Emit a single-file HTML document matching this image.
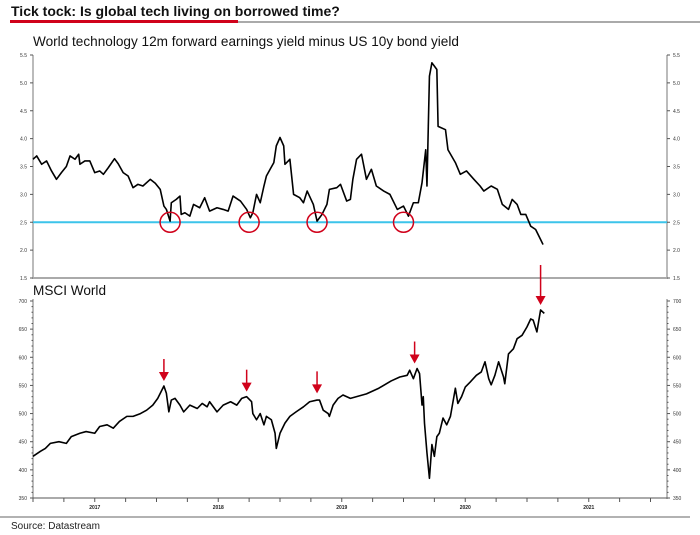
<!DOCTYPE html>
<html><head><meta charset="utf-8"><style>
body{margin:0;background:#fff;width:700px;height:535px;overflow:hidden;font-family:"Liberation Sans",sans-serif}
svg{display:block}
</style></head><body>
<svg width="700" height="535" viewBox="0 0 700 535">
<text x="11" y="16" font-size="14" font-weight="bold" fill="#111">Tick tock: Is global tech living on borrowed time?</text>
<line x1="10" y1="21.5" x2="238" y2="21.5" stroke="#d0021b" stroke-width="3"/>
<line x1="238" y1="22" x2="700" y2="22" stroke="#555" stroke-width="1"/>
<text x="33" y="46" font-size="13.6" fill="#111">World technology 12m forward earnings yield minus US 10y bond yield</text>
<text x="33" y="295" font-size="13.6" fill="#111">MSCI World</text>
<g id="topPanel"></g>
<g id="botPanel"></g>
<g id="xax"></g>
<line x1="0" y1="517" x2="690" y2="517" stroke="#666" stroke-width="1"/>
<text x="11" y="529" font-size="10" fill="#222">Source: Datastream</text>
</svg>
<script>
// top series: decimal years since 2017 and values
const topT=[0,.03,.07,.11,.15,.19,.23,.27,.30,.34,.37,.38,.42,.46,.50,.54,.57,.61,.66,.69,.73,.77,.81,.85,.89,.95,.99,1.03,1.06,1.08,1.11,1.12,1.16,1.19,1.20,1.23,1.27,1.30,1.35,1.39,1.43,1.49,1.54,1.58,1.62,1.68,1.73,1.76,1.78,1.81,1.84,1.87,1.89,1.92,1.95,1.97,2.00,2.03,2.04,2.08,2.11,2.16,2.19,2.22,2.27,2.30,2.34,2.38,2.40,2.46,2.49,2.54,2.57,2.59,2.62,2.66,2.70,2.74,2.78,2.84,2.89,2.95,3.00,3.04,3.08,3.12,3.15,3.18,3.19,3.21,3.23,3.25,3.27,3.28,3.34,3.36,3.42,3.46,3.51,3.57,3.62,3.65,3.71,3.76,3.80,3.85,3.88,3.92,3.95,3.99,4.03,4.07,4.11,4.13];
const topV=[3.63,3.69,3.54,3.6,3.42,3.27,3.39,3.5,3.69,3.63,3.72,3.54,3.6,3.6,3.39,3.42,3.36,3.48,3.64,3.55,3.39,3.33,3.12,3.18,3.15,3.27,3.2,3.09,2.79,2.73,2.52,2.85,2.91,2.97,2.64,2.67,2.61,2.82,2.76,2.94,2.7,2.76,2.73,2.7,2.97,2.88,2.73,2.58,2.67,3.0,2.85,3.15,3.33,3.45,3.57,3.87,4.02,3.87,3.54,3.63,3.0,2.94,2.85,3.06,2.82,2.52,2.64,2.82,3.09,3.12,3.18,2.88,2.91,3.27,3.63,3.72,3.27,3.45,3.15,3.06,3.0,2.73,2.79,2.61,2.85,2.85,3.21,3.8,3.15,5.12,5.36,5.3,5.24,4.22,4.16,3.8,3.57,3.36,3.42,3.27,3.15,3.06,3.15,3.09,2.82,2.73,2.91,2.82,2.64,2.64,2.43,2.37,2.19,2.1];
// bottom series: MSCI World
const botT=[0,.06,.10,.14,.21,.27,.31,.38,.43,.50,.54,.60,.65,.70,.76,.81,.87,.92,.97,1.01,1.06,1.08,1.10,1.12,1.15,1.19,1.22,1.27,1.33,1.37,1.41,1.43,1.49,1.54,1.60,1.65,1.69,1.73,1.77,1.78,1.81,1.84,1.87,1.89,1.93,1.96,1.97,2.00,2.04,2.08,2.13,2.19,2.24,2.30,2.32,2.35,2.39,2.40,2.43,2.47,2.51,2.57,2.70,2.80,2.90,2.97,3.03,3.05,3.08,3.11,3.13,3.15,3.16,3.17,3.19,3.21,3.23,3.25,3.27,3.29,3.32,3.35,3.38,3.42,3.44,3.47,3.50,3.54,3.59,3.63,3.66,3.69,3.71,3.74,3.77,3.81,3.82,3.85,3.89,3.92,3.96,4.00,4.03,4.05,4.08,4.11,4.14];
const botV=[424,433,438,447,450,447,459,465,468,465,477,480,474,486,495,495,500,506,515,527,549,536,503,524,527,515,503,515,509,518,512,521,503,515,521,515,527,530,521,500,489,500,480,495,489,465,438,465,483,495,503,512,521,524,524,506,500,495,515,527,533,527,535,545,558,565,568,577,562,580,571,515,530,483,430,385,445,424,459,465,492,480,495,545,518,530,547,556,568,574,592,562,551,568,592,565,553,606,615,633,639,654,668,666,645,684,678];
const topTicks=[1.5,2.0,2.5,3.0,3.5,4.0,4.5,5.0,5.5];
const botTicks=[350,400,450,500,550,600,650,700];
const yearLabels=["2017","2018","2019","2020","2021"];
const refLevel=2.5;
const circleT=[1.11,1.75,2.30,3.0];
const arrowT=[1.06,1.73,2.30,3.09,4.11];
const arrowV=[549,530,527,580,684];

const NS="http://www.w3.org/2000/svg";
const L=33,R=667;
const x=t=>L+t*123.5;
const yTop=v=>278-(v-1.5)*55.75;
const yBot=v=>498-(v-350)*0.5629;
function mk(tag,attrs,parent){const e=document.createElementNS(NS,tag);for(const k in attrs)e.setAttribute(k,attrs[k]);parent.appendChild(e);return e;}
const topG=document.getElementById('topPanel'),botG=document.getElementById('botPanel'),xax=document.getElementById('xax');

// top axes
let e=mk('line',{x1:L,y1:55,x2:L,y2:279,stroke:'#777','stroke-width':1},topG);


e=mk('line',{x1:R,y1:55,x2:R,y2:279,stroke:'#777','stroke-width':1},topG);


e=mk('line',{x1:L,y1:278,x2:R,y2:278,stroke:'#aaa','stroke-width':2},topG);


topTicks.forEach(v=>{
  const y=yTop(v);
  mk('line',{x1:L-3,y1:y,x2:L,y2:y,stroke:'#555'},topG);
  mk('line',{x1:R,y1:y,x2:R+3,y2:y,stroke:'#555'},topG);
  let t=mk('text',{x:L-6,y:y+2,'font-size':5,'text-anchor':'end',fill:'#333'},topG);t.textContent=v.toFixed(1);
  
  
  t=mk('text',{x:R+6,y:y+2,'font-size':5,fill:'#333'},topG);t.textContent=v.toFixed(1);
  
  
});
e=mk('line',{x1:L,y1:yTop(refLevel),x2:R,y2:yTop(refLevel),stroke:'#3cc4ea','stroke-width':2},topG);


e=mk('polyline',{points:topT.map((t,i)=>x(t)+','+yTop(topV[i])).join(' '),fill:'none',stroke:'#000','stroke-width':1.6,'stroke-linejoin':'round'},topG);


circleT.forEach(t=>{
  const c=mk('circle',{cx:x(t),cy:yTop(refLevel),r:10,fill:'none',stroke:'#d0021b','stroke-width':1.5},topG);
  
  
});

// bottom axes
e=mk('line',{x1:L,y1:299,x2:L,y2:499,stroke:'#777'},botG);


e=mk('line',{x1:R,y1:299,x2:R,y2:499,stroke:'#777'},botG);


e=mk('line',{x1:L,y1:498,x2:R,y2:498,stroke:'#555'},botG);


for(let v=350;v<=700;v+=10){const y=yBot(v);const len=v%50===0?3:1.5;
  mk('line',{x1:L-len,y1:y,x2:L,y2:y,stroke:'#555'},botG);
  mk('line',{x1:R,y1:y,x2:R+len,y2:y,stroke:'#555'},botG);}
botTicks.forEach(v=>{
  const y=yBot(v);
  let t=mk('text',{x:L-6,y:y+2,'font-size':5,'text-anchor':'end',fill:'#333'},botG);t.textContent=v;
  
  
  t=mk('text',{x:R+6,y:y+2,'font-size':5,fill:'#333'},botG);t.textContent=v;
  
  
});
e=mk('polyline',{points:botT.map((t,i)=>x(t)+','+yBot(botV[i])).join(' '),fill:'none',stroke:'#000','stroke-width':1.6,'stroke-linejoin':'round'},botG);


arrowT.forEach((t,i)=>{
  const ax=x(t),tip=yBot(arrowV[i])-5,len=i===4?40:22;
  const g=mk('g',{},botG);
  
  
  mk('line',{x1:ax,y1:tip-len,x2:ax,y2:tip-6,stroke:'#d0021b','stroke-width':1.5},g);
  mk('polygon',{points:`${ax-5},${tip-9} ${ax+5},${tip-9} ${ax},${tip}`,fill:'#d0021b'},g);
});

// x axis
for(let q=0;q<=20;q++){const xx=x(q/4);mk('line',{x1:xx,y1:498,x2:xx,y2:502,stroke:'#555'},xax);}
yearLabels.forEach((lab,i)=>{
  const t=mk('text',{x:x(i+0.5),y:509,'font-size':5,'font-weight':'bold','text-anchor':'middle',fill:'#222'},xax);t.textContent=lab;
  
  
});
</script>
</body></html>
